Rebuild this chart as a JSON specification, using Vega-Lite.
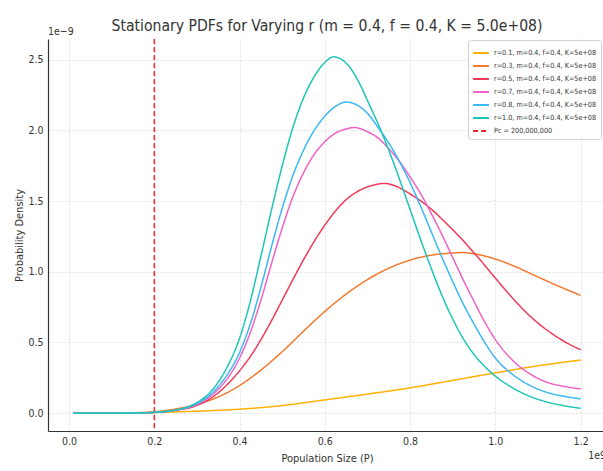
{
  "$schema": "https://vega.github.io/schema/vega-lite/v6.json",
  "autosize": {"type": "none"},
  "padding": {"left": 48, "top": 39, "right": 0, "bottom": 40},
  "width": 558,
  "height": 392,
  "background": "white",
  "title": {"text": "Stationary PDFs for Varying r (m = 0.4, f = 0.4, K = 5.0e+08)", "fontSize": 15.6, "fontWeight": "normal", "color": "#333333", "anchor": "middle", "offset": -8},
  "config": {
    "font": "DejaVu Sans Condensed, Liberation Sans Narrow, DejaVu Sans, sans-serif",
    "view": {"stroke": null},
    "axis": {"gridColor": "#d8d8d8", "gridDash": [2, 2], "gridWidth": 0.8, "domainColor": "#333333", "domainWidth": 1.2, "ticks": false, "labelColor": "#333333", "labelFontSize": 10.5, "titleColor": "#333333", "titleFontSize": 11, "titleFontWeight": "normal", "labelPadding": 5}
  },
  "datasets": {
    "curves": [
      {"series": "r=0.1, m=0.4, f=0.4, K=5e+08", "P": 0.01, "density": 0},
      {"series": "r=0.1, m=0.4, f=0.4, K=5e+08", "P": 0.1, "density": 0.001},
      {"series": "r=0.1, m=0.4, f=0.4, K=5e+08", "P": 0.2, "density": 0.005},
      {"series": "r=0.1, m=0.4, f=0.4, K=5e+08", "P": 0.3, "density": 0.014},
      {"series": "r=0.1, m=0.4, f=0.4, K=5e+08", "P": 0.4, "density": 0.028},
      {"series": "r=0.1, m=0.4, f=0.4, K=5e+08", "P": 0.5, "density": 0.054},
      {"series": "r=0.1, m=0.4, f=0.4, K=5e+08", "P": 0.6, "density": 0.094},
      {"series": "r=0.1, m=0.4, f=0.4, K=5e+08", "P": 0.7, "density": 0.135},
      {"series": "r=0.1, m=0.4, f=0.4, K=5e+08", "P": 0.8, "density": 0.179},
      {"series": "r=0.1, m=0.4, f=0.4, K=5e+08", "P": 0.9, "density": 0.232},
      {"series": "r=0.1, m=0.4, f=0.4, K=5e+08", "P": 1.0, "density": 0.285},
      {"series": "r=0.1, m=0.4, f=0.4, K=5e+08", "P": 1.1, "density": 0.335},
      {"series": "r=0.1, m=0.4, f=0.4, K=5e+08", "P": 1.2, "density": 0.376},

      {"series": "r=0.3, m=0.4, f=0.4, K=5e+08", "P": 0.01, "density": 0},
      {"series": "r=0.3, m=0.4, f=0.4, K=5e+08", "P": 0.05, "density": 0},
      {"series": "r=0.3, m=0.4, f=0.4, K=5e+08", "P": 0.1, "density": 0.001},
      {"series": "r=0.3, m=0.4, f=0.4, K=5e+08", "P": 0.15, "density": 0.003},
      {"series": "r=0.3, m=0.4, f=0.4, K=5e+08", "P": 0.2, "density": 0.01},
      {"series": "r=0.3, m=0.4, f=0.4, K=5e+08", "P": 0.25, "density": 0.03},
      {"series": "r=0.3, m=0.4, f=0.4, K=5e+08", "P": 0.3, "density": 0.063},
      {"series": "r=0.3, m=0.4, f=0.4, K=5e+08", "P": 0.35, "density": 0.115},
      {"series": "r=0.3, m=0.4, f=0.4, K=5e+08", "P": 0.4, "density": 0.196},
      {"series": "r=0.3, m=0.4, f=0.4, K=5e+08", "P": 0.45, "density": 0.305},
      {"series": "r=0.3, m=0.4, f=0.4, K=5e+08", "P": 0.5, "density": 0.435},
      {"series": "r=0.3, m=0.4, f=0.4, K=5e+08", "P": 0.55, "density": 0.58},
      {"series": "r=0.3, m=0.4, f=0.4, K=5e+08", "P": 0.6, "density": 0.72},
      {"series": "r=0.3, m=0.4, f=0.4, K=5e+08", "P": 0.65, "density": 0.8425},
      {"series": "r=0.3, m=0.4, f=0.4, K=5e+08", "P": 0.7, "density": 0.945},
      {"series": "r=0.3, m=0.4, f=0.4, K=5e+08", "P": 0.75, "density": 1.025},
      {"series": "r=0.3, m=0.4, f=0.4, K=5e+08", "P": 0.8, "density": 1.0825},
      {"series": "r=0.3, m=0.4, f=0.4, K=5e+08", "P": 0.85, "density": 1.1175},
      {"series": "r=0.3, m=0.4, f=0.4, K=5e+08", "P": 0.9, "density": 1.1325},
      {"series": "r=0.3, m=0.4, f=0.4, K=5e+08", "P": 0.92, "density": 1.136},
      {"series": "r=0.3, m=0.4, f=0.4, K=5e+08", "P": 0.95, "density": 1.127},
      {"series": "r=0.3, m=0.4, f=0.4, K=5e+08", "P": 1.0, "density": 1.09},
      {"series": "r=0.3, m=0.4, f=0.4, K=5e+08", "P": 1.05, "density": 1.032},
      {"series": "r=0.3, m=0.4, f=0.4, K=5e+08", "P": 1.1, "density": 0.963},
      {"series": "r=0.3, m=0.4, f=0.4, K=5e+08", "P": 1.15, "density": 0.896},
      {"series": "r=0.3, m=0.4, f=0.4, K=5e+08", "P": 1.2, "density": 0.833},

      {"series": "r=0.5, m=0.4, f=0.4, K=5e+08", "P": 0.01, "density": 0},
      {"series": "r=0.5, m=0.4, f=0.4, K=5e+08", "P": 0.05, "density": 0},
      {"series": "r=0.5, m=0.4, f=0.4, K=5e+08", "P": 0.1, "density": 0},
      {"series": "r=0.5, m=0.4, f=0.4, K=5e+08", "P": 0.15, "density": 0.001},
      {"series": "r=0.5, m=0.4, f=0.4, K=5e+08", "P": 0.2, "density": 0.005},
      {"series": "r=0.5, m=0.4, f=0.4, K=5e+08", "P": 0.25, "density": 0.02},
      {"series": "r=0.5, m=0.4, f=0.4, K=5e+08", "P": 0.3, "density": 0.055},
      {"series": "r=0.5, m=0.4, f=0.4, K=5e+08", "P": 0.325, "density": 0.092},
      {"series": "r=0.5, m=0.4, f=0.4, K=5e+08", "P": 0.35, "density": 0.145},
      {"series": "r=0.5, m=0.4, f=0.4, K=5e+08", "P": 0.375, "density": 0.215},
      {"series": "r=0.5, m=0.4, f=0.4, K=5e+08", "P": 0.4, "density": 0.3},
      {"series": "r=0.5, m=0.4, f=0.4, K=5e+08", "P": 0.425, "density": 0.4},
      {"series": "r=0.5, m=0.4, f=0.4, K=5e+08", "P": 0.45, "density": 0.52},
      {"series": "r=0.5, m=0.4, f=0.4, K=5e+08", "P": 0.475, "density": 0.655},
      {"series": "r=0.5, m=0.4, f=0.4, K=5e+08", "P": 0.5, "density": 0.8},
      {"series": "r=0.5, m=0.4, f=0.4, K=5e+08", "P": 0.525, "density": 0.945},
      {"series": "r=0.5, m=0.4, f=0.4, K=5e+08", "P": 0.55, "density": 1.085},
      {"series": "r=0.5, m=0.4, f=0.4, K=5e+08", "P": 0.575, "density": 1.215},
      {"series": "r=0.5, m=0.4, f=0.4, K=5e+08", "P": 0.6, "density": 1.33},
      {"series": "r=0.5, m=0.4, f=0.4, K=5e+08", "P": 0.625, "density": 1.43},
      {"series": "r=0.5, m=0.4, f=0.4, K=5e+08", "P": 0.65, "density": 1.51},
      {"series": "r=0.5, m=0.4, f=0.4, K=5e+08", "P": 0.675, "density": 1.565},
      {"series": "r=0.5, m=0.4, f=0.4, K=5e+08", "P": 0.7, "density": 1.6},
      {"series": "r=0.5, m=0.4, f=0.4, K=5e+08", "P": 0.72, "density": 1.617},
      {"series": "r=0.5, m=0.4, f=0.4, K=5e+08", "P": 0.74, "density": 1.625},
      {"series": "r=0.5, m=0.4, f=0.4, K=5e+08", "P": 0.767, "density": 1.605},
      {"series": "r=0.5, m=0.4, f=0.4, K=5e+08", "P": 0.8, "density": 1.55},
      {"series": "r=0.5, m=0.4, f=0.4, K=5e+08", "P": 0.845, "density": 1.455},
      {"series": "r=0.5, m=0.4, f=0.4, K=5e+08", "P": 0.884, "density": 1.345},
      {"series": "r=0.5, m=0.4, f=0.4, K=5e+08", "P": 0.923, "density": 1.225},
      {"series": "r=0.5, m=0.4, f=0.4, K=5e+08", "P": 0.9625, "density": 1.09},
      {"series": "r=0.5, m=0.4, f=0.4, K=5e+08", "P": 1.0, "density": 0.955},
      {"series": "r=0.5, m=0.4, f=0.4, K=5e+08", "P": 1.04, "density": 0.815},
      {"series": "r=0.5, m=0.4, f=0.4, K=5e+08", "P": 1.08, "density": 0.69},
      {"series": "r=0.5, m=0.4, f=0.4, K=5e+08", "P": 1.12, "density": 0.59},
      {"series": "r=0.5, m=0.4, f=0.4, K=5e+08", "P": 1.16, "density": 0.51},
      {"series": "r=0.5, m=0.4, f=0.4, K=5e+08", "P": 1.2, "density": 0.448},

      {"series": "r=0.7, m=0.4, f=0.4, K=5e+08", "P": 0.01, "density": 0},
      {"series": "r=0.7, m=0.4, f=0.4, K=5e+08", "P": 0.05, "density": 0},
      {"series": "r=0.7, m=0.4, f=0.4, K=5e+08", "P": 0.1, "density": 0},
      {"series": "r=0.7, m=0.4, f=0.4, K=5e+08", "P": 0.15, "density": 0.001},
      {"series": "r=0.7, m=0.4, f=0.4, K=5e+08", "P": 0.2, "density": 0.006},
      {"series": "r=0.7, m=0.4, f=0.4, K=5e+08", "P": 0.25, "density": 0.021},
      {"series": "r=0.7, m=0.4, f=0.4, K=5e+08", "P": 0.3, "density": 0.063},
      {"series": "r=0.7, m=0.4, f=0.4, K=5e+08", "P": 0.325, "density": 0.105},
      {"series": "r=0.7, m=0.4, f=0.4, K=5e+08", "P": 0.35, "density": 0.17},
      {"series": "r=0.7, m=0.4, f=0.4, K=5e+08", "P": 0.375, "density": 0.26},
      {"series": "r=0.7, m=0.4, f=0.4, K=5e+08", "P": 0.4, "density": 0.39},
      {"series": "r=0.7, m=0.4, f=0.4, K=5e+08", "P": 0.425, "density": 0.57},
      {"series": "r=0.7, m=0.4, f=0.4, K=5e+08", "P": 0.45, "density": 0.8},
      {"series": "r=0.7, m=0.4, f=0.4, K=5e+08", "P": 0.475, "density": 1.06},
      {"series": "r=0.7, m=0.4, f=0.4, K=5e+08", "P": 0.5, "density": 1.31},
      {"series": "r=0.7, m=0.4, f=0.4, K=5e+08", "P": 0.525, "density": 1.53},
      {"series": "r=0.7, m=0.4, f=0.4, K=5e+08", "P": 0.55, "density": 1.7},
      {"series": "r=0.7, m=0.4, f=0.4, K=5e+08", "P": 0.575, "density": 1.83},
      {"series": "r=0.7, m=0.4, f=0.4, K=5e+08", "P": 0.6, "density": 1.92},
      {"series": "r=0.7, m=0.4, f=0.4, K=5e+08", "P": 0.625, "density": 1.98},
      {"series": "r=0.7, m=0.4, f=0.4, K=5e+08", "P": 0.65, "density": 2.01},
      {"series": "r=0.7, m=0.4, f=0.4, K=5e+08", "P": 0.67, "density": 2.02},
      {"series": "r=0.7, m=0.4, f=0.4, K=5e+08", "P": 0.7, "density": 1.99},
      {"series": "r=0.7, m=0.4, f=0.4, K=5e+08", "P": 0.725, "density": 1.945},
      {"series": "r=0.7, m=0.4, f=0.4, K=5e+08", "P": 0.75, "density": 1.87},
      {"series": "r=0.7, m=0.4, f=0.4, K=5e+08", "P": 0.775, "density": 1.78},
      {"series": "r=0.7, m=0.4, f=0.4, K=5e+08", "P": 0.8, "density": 1.67},
      {"series": "r=0.7, m=0.4, f=0.4, K=5e+08", "P": 0.825, "density": 1.55},
      {"series": "r=0.7, m=0.4, f=0.4, K=5e+08", "P": 0.85, "density": 1.41},
      {"series": "r=0.7, m=0.4, f=0.4, K=5e+08", "P": 0.875, "density": 1.26},
      {"series": "r=0.7, m=0.4, f=0.4, K=5e+08", "P": 0.9, "density": 1.1},
      {"series": "r=0.7, m=0.4, f=0.4, K=5e+08", "P": 0.925, "density": 0.94},
      {"series": "r=0.7, m=0.4, f=0.4, K=5e+08", "P": 0.95, "density": 0.79},
      {"series": "r=0.7, m=0.4, f=0.4, K=5e+08", "P": 0.975, "density": 0.645},
      {"series": "r=0.7, m=0.4, f=0.4, K=5e+08", "P": 1.0, "density": 0.52},
      {"series": "r=0.7, m=0.4, f=0.4, K=5e+08", "P": 1.04, "density": 0.375},
      {"series": "r=0.7, m=0.4, f=0.4, K=5e+08", "P": 1.08, "density": 0.28},
      {"series": "r=0.7, m=0.4, f=0.4, K=5e+08", "P": 1.12, "density": 0.22},
      {"series": "r=0.7, m=0.4, f=0.4, K=5e+08", "P": 1.16, "density": 0.19},
      {"series": "r=0.7, m=0.4, f=0.4, K=5e+08", "P": 1.2, "density": 0.172},

      {"series": "r=0.8, m=0.4, f=0.4, K=5e+08", "P": 0.01, "density": 0},
      {"series": "r=0.8, m=0.4, f=0.4, K=5e+08", "P": 0.05, "density": 0},
      {"series": "r=0.8, m=0.4, f=0.4, K=5e+08", "P": 0.1, "density": 0},
      {"series": "r=0.8, m=0.4, f=0.4, K=5e+08", "P": 0.15, "density": 0.001},
      {"series": "r=0.8, m=0.4, f=0.4, K=5e+08", "P": 0.2, "density": 0.006},
      {"series": "r=0.8, m=0.4, f=0.4, K=5e+08", "P": 0.25, "density": 0.022},
      {"series": "r=0.8, m=0.4, f=0.4, K=5e+08", "P": 0.3, "density": 0.068},
      {"series": "r=0.8, m=0.4, f=0.4, K=5e+08", "P": 0.325, "density": 0.115},
      {"series": "r=0.8, m=0.4, f=0.4, K=5e+08", "P": 0.35, "density": 0.19},
      {"series": "r=0.8, m=0.4, f=0.4, K=5e+08", "P": 0.375, "density": 0.29},
      {"series": "r=0.8, m=0.4, f=0.4, K=5e+08", "P": 0.4, "density": 0.43},
      {"series": "r=0.8, m=0.4, f=0.4, K=5e+08", "P": 0.425, "density": 0.63},
      {"series": "r=0.8, m=0.4, f=0.4, K=5e+08", "P": 0.45, "density": 0.89},
      {"series": "r=0.8, m=0.4, f=0.4, K=5e+08", "P": 0.475, "density": 1.18},
      {"series": "r=0.8, m=0.4, f=0.4, K=5e+08", "P": 0.5, "density": 1.45},
      {"series": "r=0.8, m=0.4, f=0.4, K=5e+08", "P": 0.525, "density": 1.68},
      {"series": "r=0.8, m=0.4, f=0.4, K=5e+08", "P": 0.55, "density": 1.86},
      {"series": "r=0.8, m=0.4, f=0.4, K=5e+08", "P": 0.575, "density": 2.0},
      {"series": "r=0.8, m=0.4, f=0.4, K=5e+08", "P": 0.6, "density": 2.1},
      {"series": "r=0.8, m=0.4, f=0.4, K=5e+08", "P": 0.625, "density": 2.17},
      {"series": "r=0.8, m=0.4, f=0.4, K=5e+08", "P": 0.65, "density": 2.2},
      {"series": "r=0.8, m=0.4, f=0.4, K=5e+08", "P": 0.675, "density": 2.18},
      {"series": "r=0.8, m=0.4, f=0.4, K=5e+08", "P": 0.7, "density": 2.12},
      {"series": "r=0.8, m=0.4, f=0.4, K=5e+08", "P": 0.725, "density": 2.02},
      {"series": "r=0.8, m=0.4, f=0.4, K=5e+08", "P": 0.75, "density": 1.91},
      {"series": "r=0.8, m=0.4, f=0.4, K=5e+08", "P": 0.775, "density": 1.78},
      {"series": "r=0.8, m=0.4, f=0.4, K=5e+08", "P": 0.8, "density": 1.63},
      {"series": "r=0.8, m=0.4, f=0.4, K=5e+08", "P": 0.825, "density": 1.46},
      {"series": "r=0.8, m=0.4, f=0.4, K=5e+08", "P": 0.85, "density": 1.28},
      {"series": "r=0.8, m=0.4, f=0.4, K=5e+08", "P": 0.875, "density": 1.1},
      {"series": "r=0.8, m=0.4, f=0.4, K=5e+08", "P": 0.9, "density": 0.93},
      {"series": "r=0.8, m=0.4, f=0.4, K=5e+08", "P": 0.925, "density": 0.77},
      {"series": "r=0.8, m=0.4, f=0.4, K=5e+08", "P": 0.95, "density": 0.63},
      {"series": "r=0.8, m=0.4, f=0.4, K=5e+08", "P": 0.975, "density": 0.5},
      {"series": "r=0.8, m=0.4, f=0.4, K=5e+08", "P": 1.0, "density": 0.39},
      {"series": "r=0.8, m=0.4, f=0.4, K=5e+08", "P": 1.04, "density": 0.275},
      {"series": "r=0.8, m=0.4, f=0.4, K=5e+08", "P": 1.08, "density": 0.198},
      {"series": "r=0.8, m=0.4, f=0.4, K=5e+08", "P": 1.12, "density": 0.148},
      {"series": "r=0.8, m=0.4, f=0.4, K=5e+08", "P": 1.16, "density": 0.12},
      {"series": "r=0.8, m=0.4, f=0.4, K=5e+08", "P": 1.2, "density": 0.101},

      {"series": "r=1.0, m=0.4, f=0.4, K=5e+08", "P": 0.01, "density": 0},
      {"series": "r=1.0, m=0.4, f=0.4, K=5e+08", "P": 0.05, "density": 0},
      {"series": "r=1.0, m=0.4, f=0.4, K=5e+08", "P": 0.1, "density": 0},
      {"series": "r=1.0, m=0.4, f=0.4, K=5e+08", "P": 0.15, "density": 0.001},
      {"series": "r=1.0, m=0.4, f=0.4, K=5e+08", "P": 0.2, "density": 0.006},
      {"series": "r=1.0, m=0.4, f=0.4, K=5e+08", "P": 0.25, "density": 0.023},
      {"series": "r=1.0, m=0.4, f=0.4, K=5e+08", "P": 0.3, "density": 0.075},
      {"series": "r=1.0, m=0.4, f=0.4, K=5e+08", "P": 0.325, "density": 0.13},
      {"series": "r=1.0, m=0.4, f=0.4, K=5e+08", "P": 0.35, "density": 0.22},
      {"series": "r=1.0, m=0.4, f=0.4, K=5e+08", "P": 0.375, "density": 0.35},
      {"series": "r=1.0, m=0.4, f=0.4, K=5e+08", "P": 0.4, "density": 0.53},
      {"series": "r=1.0, m=0.4, f=0.4, K=5e+08", "P": 0.425, "density": 0.79},
      {"series": "r=1.0, m=0.4, f=0.4, K=5e+08", "P": 0.45, "density": 1.11},
      {"series": "r=1.0, m=0.4, f=0.4, K=5e+08", "P": 0.475, "density": 1.44},
      {"series": "r=1.0, m=0.4, f=0.4, K=5e+08", "P": 0.5, "density": 1.75},
      {"series": "r=1.0, m=0.4, f=0.4, K=5e+08", "P": 0.525, "density": 2.02},
      {"series": "r=1.0, m=0.4, f=0.4, K=5e+08", "P": 0.55, "density": 2.23},
      {"series": "r=1.0, m=0.4, f=0.4, K=5e+08", "P": 0.575, "density": 2.38},
      {"series": "r=1.0, m=0.4, f=0.4, K=5e+08", "P": 0.6, "density": 2.48},
      {"series": "r=1.0, m=0.4, f=0.4, K=5e+08", "P": 0.62, "density": 2.52},
      {"series": "r=1.0, m=0.4, f=0.4, K=5e+08", "P": 0.64, "density": 2.5},
      {"series": "r=1.0, m=0.4, f=0.4, K=5e+08", "P": 0.66, "density": 2.44},
      {"series": "r=1.0, m=0.4, f=0.4, K=5e+08", "P": 0.68, "density": 2.34},
      {"series": "r=1.0, m=0.4, f=0.4, K=5e+08", "P": 0.7, "density": 2.21},
      {"series": "r=1.0, m=0.4, f=0.4, K=5e+08", "P": 0.725, "density": 2.045},
      {"series": "r=1.0, m=0.4, f=0.4, K=5e+08", "P": 0.75, "density": 1.86},
      {"series": "r=1.0, m=0.4, f=0.4, K=5e+08", "P": 0.775, "density": 1.655},
      {"series": "r=1.0, m=0.4, f=0.4, K=5e+08", "P": 0.8, "density": 1.44},
      {"series": "r=1.0, m=0.4, f=0.4, K=5e+08", "P": 0.825, "density": 1.225},
      {"series": "r=1.0, m=0.4, f=0.4, K=5e+08", "P": 0.85, "density": 1.02},
      {"series": "r=1.0, m=0.4, f=0.4, K=5e+08", "P": 0.875, "density": 0.83},
      {"series": "r=1.0, m=0.4, f=0.4, K=5e+08", "P": 0.9, "density": 0.665},
      {"series": "r=1.0, m=0.4, f=0.4, K=5e+08", "P": 0.925, "density": 0.525},
      {"series": "r=1.0, m=0.4, f=0.4, K=5e+08", "P": 0.95, "density": 0.415},
      {"series": "r=1.0, m=0.4, f=0.4, K=5e+08", "P": 0.975, "density": 0.33},
      {"series": "r=1.0, m=0.4, f=0.4, K=5e+08", "P": 1.0, "density": 0.262},
      {"series": "r=1.0, m=0.4, f=0.4, K=5e+08", "P": 1.04, "density": 0.18},
      {"series": "r=1.0, m=0.4, f=0.4, K=5e+08", "P": 1.08, "density": 0.12},
      {"series": "r=1.0, m=0.4, f=0.4, K=5e+08", "P": 1.12, "density": 0.08},
      {"series": "r=1.0, m=0.4, f=0.4, K=5e+08", "P": 1.16, "density": 0.053},
      {"series": "r=1.0, m=0.4, f=0.4, K=5e+08", "P": 1.2, "density": 0.035}
    ],
    "threshold": [{"series": "Pc = 200,000,000", "P": 0.2}]
  },
  "layer": [
    {
      "data": {"name": "threshold"},
      "mark": {"type": "rule", "strokeWidth": 1.5},
      "encoding": {
        "x": {"field": "P", "type": "quantitative"},
        "color": {"field": "series", "type": "nominal"},
        "strokeDash": {"field": "series", "type": "nominal"}
      }
    },
    {
      "data": {"name": "curves"},
      "mark": {"type": "line", "strokeWidth": 1.5, "interpolate": "monotone"},
      "encoding": {
        "x": {"field": "P", "type": "quantitative",
          "scale": {"domain": [-0.0495, 1.2595], "nice": false, "zero": false},
          "axis": {"values": [0, 0.2, 0.4, 0.6, 0.8, 1.0, 1.2], "format": ".1f", "title": "Population Size (P)", "titlePadding": 6}},
        "y": {"field": "density", "type": "quantitative",
          "scale": {"domain": [-0.126, 2.646], "nice": false, "zero": false},
          "axis": {"values": [0, 0.5, 1.0, 1.5, 2.0, 2.5], "format": ".1f", "title": "Probability Density", "titlePadding": 3}},
        "color": {"field": "series", "type": "nominal",
          "scale": {
            "domain": ["r=0.1, m=0.4, f=0.4, K=5e+08", "r=0.3, m=0.4, f=0.4, K=5e+08", "r=0.5, m=0.4, f=0.4, K=5e+08", "r=0.7, m=0.4, f=0.4, K=5e+08", "r=0.8, m=0.4, f=0.4, K=5e+08", "r=1.0, m=0.4, f=0.4, K=5e+08", "Pc = 200,000,000"],
            "range": ["#FFB000", "#F5792C", "#EF3A58", "#F062C6", "#3AB8F5", "#1CC6B6", "#E8262B"]},
          "legend": {"title": null, "orient": "none", "legendX": 420, "legendY": 1, "symbolType": "stroke", "symbolSize": 250, "symbolStrokeWidth": 1.8, "labelFontSize": 7.2, "labelColor": "#333333", "labelOffset": 4, "rowPadding": -4.6, "padding": 4, "fillColor": "white", "strokeColor": "#d0d0d0", "cornerRadius": 3}},
        "strokeDash": {"field": "series", "type": "nominal",
          "scale": {
            "domain": ["r=0.1, m=0.4, f=0.4, K=5e+08", "r=0.3, m=0.4, f=0.4, K=5e+08", "r=0.5, m=0.4, f=0.4, K=5e+08", "r=0.7, m=0.4, f=0.4, K=5e+08", "r=0.8, m=0.4, f=0.4, K=5e+08", "r=1.0, m=0.4, f=0.4, K=5e+08", "Pc = 200,000,000"],
            "range": [[1, 0], [1, 0], [1, 0], [1, 0], [1, 0], [1, 0], [5, 3]]},
          "legend": {"title": null, "orient": "none", "legendX": 420, "legendY": 1, "symbolType": "stroke", "symbolSize": 250, "symbolStrokeWidth": 1.8, "labelFontSize": 7.2, "labelColor": "#333333", "labelOffset": 4, "rowPadding": -4.6, "padding": 4, "fillColor": "white", "strokeColor": "#d0d0d0", "cornerRadius": 3}}
      }
    },
    {
      "data": {"values": [{"label": "1e\u22129"}]},
      "mark": {"type": "text", "align": "left", "baseline": "bottom", "dy": -2, "fontSize": 10.5, "color": "#333333"},
      "encoding": {"x": {"datum": -0.0495}, "y": {"datum": 2.646}, "text": {"field": "label"}}
    },
    {
      "data": {"values": [{"label": "1e9"}]},
      "mark": {"type": "text", "align": "right", "baseline": "top", "dy": 20, "fontSize": 10.5, "color": "#333333"},
      "encoding": {"x": {"datum": 1.2595}, "y": {"datum": -0.126}, "text": {"field": "label"}}
    }
  ]
}
